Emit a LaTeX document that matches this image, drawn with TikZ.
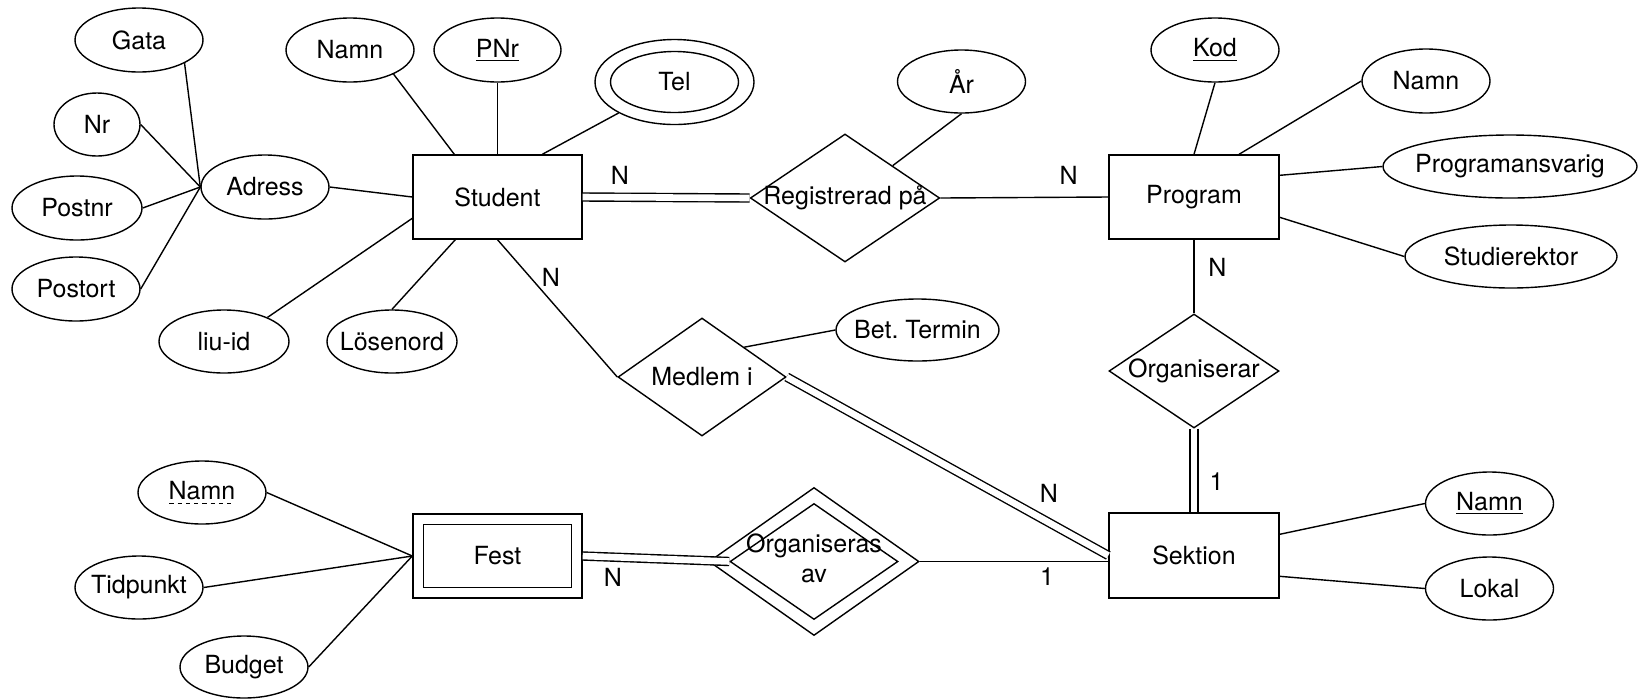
\documentclass[tikz,border=0pt]{standalone}
\usepackage{fontspec}
\setmainfont{TeX Gyre Heros}
\usetikzlibrary{shapes.geometric,calc}
\newcommand\mydashul[1]{\setbox0\hbox{#1}\rlap{\raisebox{-2.5pt}{\hbox to \wd0{\xleaders\hbox{\rule{2.2pt}{0.6pt}\hspace{1.6pt}}\hfill}}}\box0}
\begin{document}
\begin{tikzpicture}[x=0.5pt,y=-0.5pt,
  line width=0.7pt,
  every node/.style={font=\fontsize{12.5pt}{15pt}\selectfont},
  zw/.style={execute at begin node={\hbox to 0pt\bgroup\hss}, execute at end node={\hss\egroup}},
  attr/.style={ellipse,draw,inner sep=0pt,minimum width=64pt,minimum height=31.5pt,zw},
  ent/.style={rectangle,draw,inner sep=0pt,minimum width=85pt,minimum height=42pt},
  rel/.style={diamond,draw,inner sep=0pt,zw},
  dbl/.style={double,double distance=3.3pt},
  lbl/.style={inner sep=0pt}]
\useasboundingbox (0,0) rectangle (1639,698);

% Student side
\node[attr,minimum height=32pt] (gata) at (139,40) {Gata};
\node[attr,minimum width=43pt] (nr) at (97,124.5) {Nr};
\node[attr,minimum width=65pt,minimum height=32pt] (postnr) at (77,208) {Postnr};
\node[attr,minimum height=32pt] (postort) at (76,289) {Postort};
\node[attr,minimum height=32pt] (adress) at (265,187) {Adress};
\node[attr,minimum height=32pt] (namns) at (350,50) {Namn};
\node[attr,minimum width=63.5pt,minimum height=32pt] (pnr) at (497.5,50) {\underline{PNr}};
\node[attr,minimum width=79.5pt,minimum height=42.5pt] (telo) at (674.5,82) {};
\node[attr,minimum width=64pt,minimum height=30.5pt] (tel) at (674.5,82) {Tel};
\node[ent,minimum width=84.5pt] (student) at (497.5,197) {Student};
\node[attr,minimum width=65pt] (liuid) at (224,341.5) {liu-id};
\node[attr,minimum width=65pt] (losen) at (392,341.5) {Lösenord};

% Registrerad
\node[rel,minimum width=94.7pt,minimum height=64pt] (reg) at (845,198) {Registrerad på};
\node[attr] (aar) at (961.5,81.5) {År};

% Program
\node[ent] (program) at (1194,197) {Program};
\node[attr,minimum height=32pt] (kod) at (1215,50) {\underline{Kod}};
\node[attr,minimum height=32pt] (namnp) at (1426,81) {Namn};
\node[attr,minimum width=127pt] (pansv) at (1510,166.5) {Programansvarig};
\node[attr,minimum width=106pt] (studrek) at (1511,256.5) {Studierektor};

% Medlem i
\node[rel,minimum width=84pt,minimum height=59pt] (medlem) at (702,377) {Medlem i};
\node[attr,minimum width=81.5pt,minimum height=31pt] (bet) at (917.5,330) {Bet.\ Termin};

% Organiserar / Sektion
\node[rel,minimum width=85pt,minimum height=57pt] (organiserar) at (1194,371) {Organiserar};
\node[ent,minimum height=42.5pt] (sektion) at (1194,555.5) {Sektion};
\node[attr] (namnsek) at (1489.5,503.5) {\underline{Namn}};
\node[attr] (lokal) at (1489.5,588.5) {Lokal};

% Fest
\node[ent,minimum width=84.5pt] (festo) at (497.5,556) {};
\node[ent,minimum width=74pt,minimum height=31.5pt] (fest) at (497.5,556) {Fest};
\node[attr] (namnf) at (202,492.5) {\mydashul{Namn}};
\node[attr] (tid) at (139,587.5) {Tidpunkt};
\node[attr,minimum height=31pt] (budget) at (244,667) {Budget};

% Organiseras av
\node[rel,minimum width=105pt,minimum height=74pt] (orgavo) at (814,561.5) {};
\node[rel,minimum width=84pt,minimum height=58pt] (orgav) at (814,561.5) {\begin{tabular}{@{}c@{}}Organiseras\\av\end{tabular}};

% connectors
\draw (gata.-27) -- (adress.west);
\draw (nr.east) -- (adress.west);
\draw (postnr.east) -- (adress.west);
\draw (postort.east) -- (adress.west);
\draw (adress.east) -- (student.west);
\draw (namns.-29) -- ([xshift=21pt]student.north west);
\draw (pnr.south) -- (student.north);
\draw (telo.209) -- ([xshift=65pt]student.north west);
\draw (liuid.29) -- ([yshift=-32pt]student.north west);
\draw (losen.north) -- ([xshift=21.5pt]student.south west);
\draw (student.south) -- (medlem.west);
\draw[dbl] (student.east) -- (reg.west);
\draw (reg.east) -- (program.west);
\draw (aar.south) -- (reg.north east);
\draw (kod.south) -- (program.north);
\draw (namnp.west) -- ([xshift=22.5pt]program.north);
\draw (pansv.west) -- ([yshift=-10.5pt]program.north east);
\draw (studrek.west) -- ([yshift=-31.5pt]program.north east);
\draw (program.south) -- (organiserar.north);
\draw[dbl] (organiserar.south) -- (sektion.north);
\draw (medlem.north east) -- (bet.west);
\draw[dbl] (medlem.east) -- (sektion.west);
\draw (namnsek.west) -- ([yshift=-11pt]sektion.north east);
\draw (lokal.west) -- ([yshift=-32pt]sektion.north east);
\draw[dbl] (festo.east) -- (orgav.west);
\draw (orgavo.east) -- (orgavo.east -| sektion.west);
\draw (namnf.east) -- (festo.west);
\draw (tid.east) -- (festo.west);
\draw (budget.east) -- (festo.west);

% cardinality labels
\node[lbl] (nsr) at (620,175) {N};
\node[lbl] (nrp) at (1068.6,175) {N};
\node[lbl] (nsm) at (551,277) {N};
\node[lbl] (npo) at (1217.5,267) {N};
\node[lbl] (oos) at (1216.5,482) {1};
\node[lbl] (nms) at (1049,493) {N};
\node[lbl] (nfo) at (613,577) {N};
\node[lbl] (oas) at (1047,577) {1};
\end{tikzpicture}
\end{document}
